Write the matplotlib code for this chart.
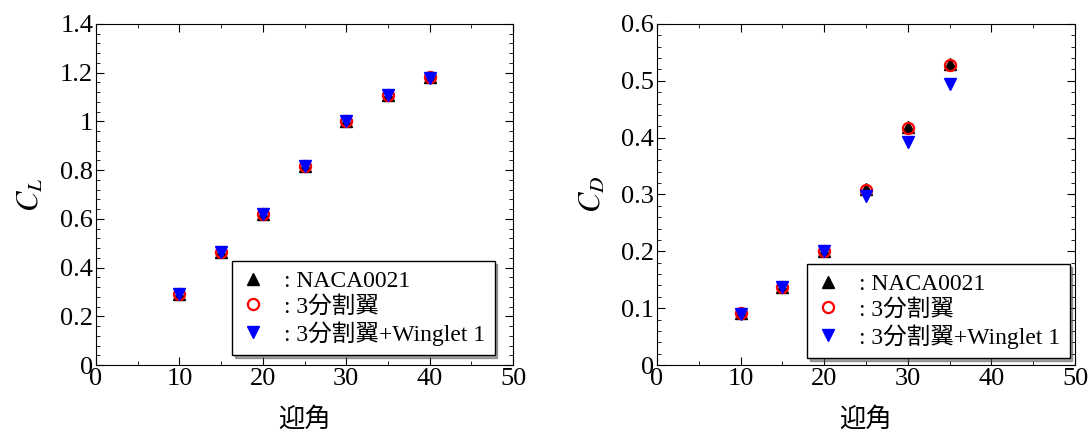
import matplotlib
matplotlib.use("Agg")
import matplotlib.pyplot as plt
from matplotlib.ticker import MultipleLocator

plt.rcParams['font.family'] = ['Liberation Serif', 'Noto Sans CJK JP']
plt.rcParams['mathtext.fontset'] = 'stix'

# data
aoa_cl = [10, 15, 20, 25, 30, 35, 40]
cl_naca = [0.29, 0.465, 0.62, 0.817, 1.0, 1.108, 1.183]
cl_split = [0.29, 0.465, 0.62, 0.817, 1.0, 1.108, 1.183]
cl_winglet = [0.29, 0.465, 0.62, 0.815, 1.0, 1.107, 1.18]

aoa_cd = [10, 15, 20, 25, 30, 35]
cd_naca = [0.091, 0.137, 0.201, 0.309, 0.418, 0.53]
cd_split = [0.091, 0.137, 0.201, 0.308, 0.417, 0.528]
cd_winglet = [0.09, 0.137, 0.2, 0.297, 0.392, 0.495]

labels = [': NACA0021', ': 3分割翼', ': 3分割翼+Winglet 1']

fig = plt.figure(figsize=(10.88, 4.37), dpi=100)
ax1 = fig.add_axes([96/1088, 1-365/437, 417/1088, 341/437])
ax2 = fig.add_axes([657/1088, 1-365/437, 418/1088, 341/437])

def draw(ax, x, a, b, c, ylim, ymaj, ymin, ylabel, legbox):
    ax.plot(x, a, linestyle='none', marker='^', ms=9, color='black', label=labels[0])
    ax.plot(x, b, linestyle='none', marker='o', ms=8, mfc='none', mec='red', mew=1.6, label=labels[1])
    ax.plot(x, c, linestyle='none', marker='v', ms=9, color='blue', label=labels[2])
    ax.set_xlim(0, 50)
    ax.set_ylim(*ylim)
    ax.xaxis.set_major_locator(MultipleLocator(10))
    ax.xaxis.set_minor_locator(MultipleLocator(5))
    ax.yaxis.set_major_locator(MultipleLocator(ymaj))
    ax.yaxis.set_minor_locator(MultipleLocator(ymin))
    ax.tick_params(which='both', direction='in', top=True, right=True, labelsize=19, pad=2)
    ax.tick_params(which='major', length=6)
    ax.tick_params(which='minor', length=3)
    ax.xaxis.set_major_formatter(matplotlib.ticker.FuncFormatter(lambda v, p: f"{v:g}"))
    ax.yaxis.set_major_formatter(matplotlib.ticker.FuncFormatter(lambda v, p: f"{round(v, 2):g}"))
    ax.set_xlabel('迎角', fontsize=19, labelpad=12)
    ax.set_ylabel(ylabel, fontsize=22, labelpad=10)
    leg = ax.legend(loc='lower left', bbox_to_anchor=legbox, fontsize=17, frameon=True,
                    fancybox=False, shadow=True, edgecolor='black', handlelength=1.0,
                    handletextpad=0.8, borderpad=0.4, labelspacing=0.15, borderaxespad=0)
    leg.get_frame().set_linewidth(1.0)

draw(ax1, aoa_cl, cl_naca, cl_split, cl_winglet, (0, 1.4), 0.2, 0.04, r'$C_L$',
     ((232-96)/417, (365-355)/341))
draw(ax2, aoa_cd, cd_naca, cd_split, cd_winglet, (0, 0.6), 0.1, 0.02, r'$C_D$',
     ((807-657)/418, (365-358)/341))

fig.savefig('out.png', dpi=100)
